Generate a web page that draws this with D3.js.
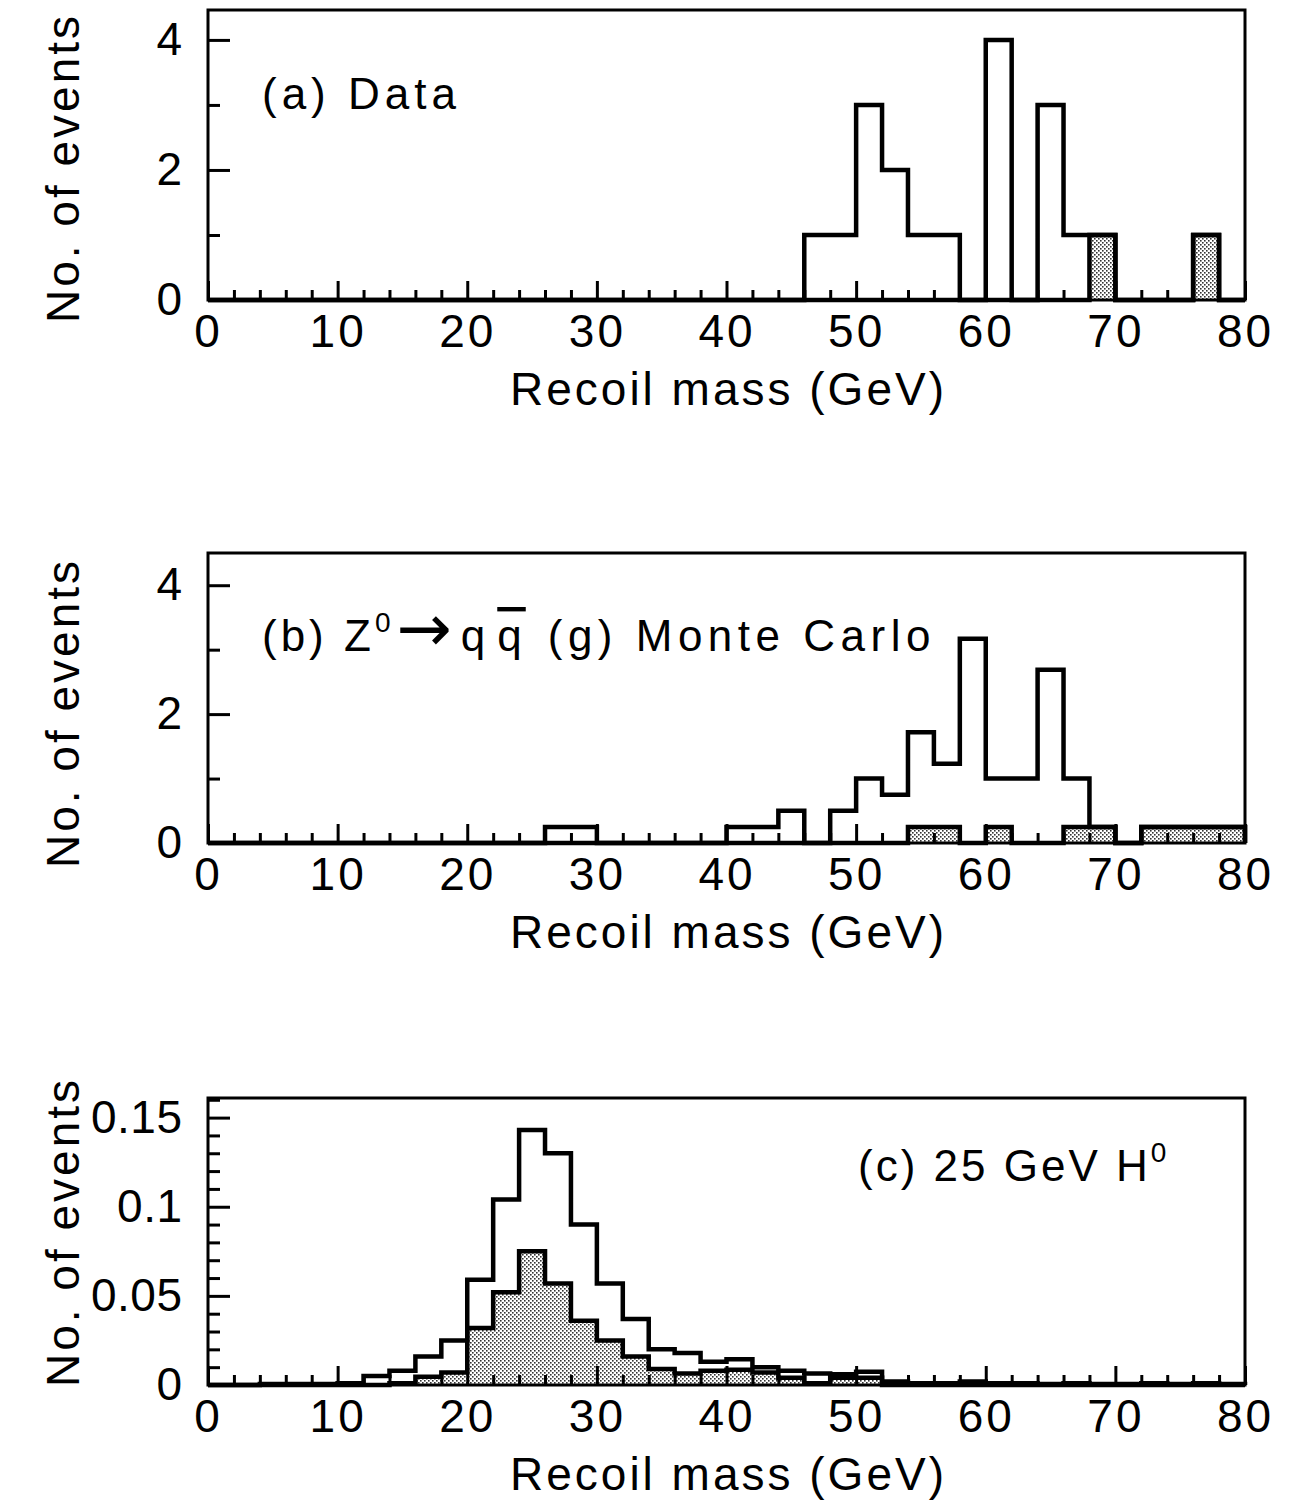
<!DOCTYPE html>
<html>
<head>
<meta charset="utf-8">
<script src="https://cdn.jsdelivr.net/npm/d3@7"></script>
<style>
  html, body { margin: 0; padding: 0; background: #fff; }
  svg { display: block; }
  text { font-family: "Liberation Sans", Arial, sans-serif; fill: #000; }
</style>
</head>
<body>
<svg id="chart" width="1290" height="1502"></svg>
<script>
// ---------------- DATA ----------------
// lower edges of the 2 GeV recoil-mass bins
const binLow = [0,2,4,6,8,10,12,14,16,18,20,22,24,26,28,30,32,34,36,38,
                40,42,44,46,48,50,52,54,56,58,60,62,64,66,68,70,72,74,76,78];
const binHigh = 80;

// (a) Data: all events and shaded subset
const dataTotal  = [0,0,0,0,0,0,0,0,0,0, 0,0,0,0,0,0,0,0,0,0,
                    0,0,0,1,1,3,2,1,1,0, 4,0,3,1,1,0,0,0,1,0];
const dataShaded = [0,0,0,0,0,0,0,0,0,0, 0,0,0,0,0,0,0,0,0,0,
                    0,0,0,0,0,0,0,0,0,0, 0,0,0,0,1,0,0,0,1,0];

// (b) Z0 -> qqbar(g) Monte Carlo
const mcTotal  = [0,0,0,0,0,0,0,0,0,0, 0,0,0,0.25,0.25,0,0,0,0,0,
                  0.25,0.25,0.5,0,0.5,1.0,0.75,1.72,1.23,3.17, 1.0,1.0,2.69,1.0,0.25,0,0.25,0.25,0.25,0.25];
const mcShaded = [0,0,0,0,0,0,0,0,0,0, 0,0,0,0,0,0,0,0,0,0,
                  0,0,0,0,0,0,0,0.25,0.25,0, 0.25,0,0,0.25,0.25,0,0.25,0.25,0.25,0.25];

// (c) 25 GeV H0
const higgsTotal  = [0,0,0.0005,0.0005,0.0005,0.001,0.005,0.008,0.016,0.025,
                     0.059,0.104,0.143,0.130,0.090,0.057,0.037,0.020,0.018,0.013,
                     0.0145,0.010,0.008,0.0065,0.006,0.0075,0.002,0.001,0.001,0.002,
                     0.001,0.001,0.0005,0.001,0.0005,0.0005,0.001,0.0005,0.001,0.0005];
const higgsShaded = [0,0,0,0,0,0,0,0.001,0.0046,0.007,
                     0.032,0.052,0.075,0.057,0.036,0.025,0.016,0.009,0.0065,0.008,
                     0.0085,0.007,0.004,0.001,0.004,0.004,0,0,0,0,
                     0,0,0,0,0,0,0,0,0,0];

// axis ticks
const xMajorTicks = [0,10,20,30,40,50,60,70,80];
const xTickLabels = ["0","10","20","30","40","50","60","70","80"];
const xMinorTicks = [2,4,6,8,12,14,16,18,22,24,26,28,32,34,36,38,42,44,46,48,52,54,56,58,62,64,66,68,72,74,76,78];
const yMajorAB = [0,2,4];
const yLabelsAB = ["0","2","4"];
const yMinorAB = [1,3];
const yMajorC = [0,0.05,0.1,0.15];
const yLabelsC = ["0","0.05","0.1","0.15"];
const yMinorC = [0.01,0.02,0.03,0.04,0.06,0.07,0.08,0.09,0.11,0.12,0.13,0.14,0.16];

const xTitle = "Recoil mass (GeV)";
const yTitle = "No. of events";

// ---------------- LAYOUT ----------------
const svg = d3.select("#chart");
const frameLeft = 208, frameRight = 1245;

const defs = svg.append("defs");
const pat = defs.append("pattern").attr("id", "dots")
  .attr("width", 4).attr("height", 4).attr("patternUnits", "userSpaceOnUse");
pat.append("rect").attr("width", 4).attr("height", 4).attr("fill", "#fff");
pat.append("rect").attr("x", 0).attr("y", 0).attr("width", 1.6).attr("height", 1.6).attr("fill", "#333");
pat.append("rect").attr("x", 2).attr("y", 2).attr("width", 1.6).attr("height", 1.6).attr("fill", "#333");

const panels = [
  { top: 10,   bottom: 300,  yMax: 4.46, total: dataTotal,  shaded: dataShaded,
    yMajor: yMajorAB, yLabels: yLabelsAB, yMinor: yMinorAB, yTitleY: 168, ySpacing: 2 },
  { top: 553,  bottom: 843,  yMax: 4.5,  total: mcTotal,    shaded: mcShaded,
    yMajor: yMajorAB, yLabels: yLabelsAB, yMinor: yMinorAB, yTitleY: 713, ySpacing: 2 },
  { top: 1098, bottom: 1385, yMax: 0.161, total: higgsTotal, shaded: higgsShaded,
    yMajor: yMajorC, yLabels: yLabelsC, yMinor: yMinorC, yTitleY: 1232, ySpacing: 0.5 }
];

const x = d3.scaleLinear().domain([0, 80]).range([frameLeft, frameRight]);

function stepPoints(vals) {
  const pts = binLow.map((lo, i) => [lo, vals[i]]);
  pts.push([binHigh, vals[vals.length - 1]]);
  return pts;
}

panels.forEach(p => {
  const y = d3.scaleLinear().domain([0, p.yMax]).range([p.bottom, p.top]);
  const g = svg.append("g");

  const area = d3.area().curve(d3.curveStepAfter)
    .x(d => x(d[0])).y0(y(0)).y1(d => y(d[1]));
  const line = d3.line().curve(d3.curveStepAfter)
    .x(d => x(d[0])).y(d => y(d[1]));

  const shPts = stepPoints(p.shaded);
  const shPath = [[0, 0]].concat(shPts).concat([[binHigh, 0]]);
  g.append("path").attr("d", area(shPts)).attr("fill", "url(#dots)");

  // axes ticks (inward)
  const xMaj = d3.axisBottom(x).tickValues(xMajorTicks)
    .tickFormat((d, i) => xTickLabels[i]).tickSize(-19).tickPadding(14);
  const xMin = d3.axisBottom(x).tickValues(xMinorTicks).tickFormat("").tickSize(-10);
  const yMaj = d3.axisLeft(y).tickValues(p.yMajor)
    .tickFormat((d, i) => p.yLabels[i]).tickSize(-22).tickPadding(26 - p.ySpacing);
  const yMin = d3.axisLeft(y).tickValues(p.yMinor).tickFormat("").tickSize(-12);

  [[xMaj, "x"], [xMin, "x"], [yMaj, "y"], [yMin, "y"]].forEach(([ax, t]) => {
    const a = g.append("g")
      .attr("transform", t === "x" ? `translate(0,${p.bottom})` : `translate(${frameLeft},0)`)
      .call(ax);
    a.select(".domain").remove();
    a.selectAll("line").attr("stroke", "#000").attr("stroke-width", 3);
    a.selectAll("text").attr("font-size", 46).attr("font-family", "Liberation Sans, Arial, sans-serif")
      .attr("letter-spacing", t === "x" ? 3 : p.ySpacing).attr("fill", "#000");
  });

  g.append("path").attr("d", line(shPath)).attr("fill", "none")
    .attr("stroke", "#000").attr("stroke-width", 4.5).attr("stroke-linejoin", "miter");
  const totPath = [[0, 0]].concat(stepPoints(p.total)).concat([[binHigh, 0]]);
  g.append("path").attr("d", line(totPath)).attr("fill", "none")
    .attr("stroke", "#000").attr("stroke-width", 4.5).attr("stroke-linejoin", "miter");

  // frame
  g.append("rect").attr("x", frameLeft).attr("y", p.top)
    .attr("width", frameRight - frameLeft).attr("height", p.bottom - p.top)
    .attr("fill", "none").attr("stroke", "#000").attr("stroke-width", 3);

  // axis titles
  g.append("text").attr("x", (frameLeft + frameRight) / 2 + 2).attr("y", p.bottom + 105)
    .attr("text-anchor", "middle").attr("font-size", 46).attr("letter-spacing", 3)
    .text(xTitle);
  g.append("text").attr("transform", `translate(79,${p.yTitleY}) rotate(-90)`)
    .attr("text-anchor", "middle").attr("font-size", 46).attr("letter-spacing", 3)
    .text(yTitle);
});

// panel labels
svg.append("text").attr("x", 262).attr("y", 109).attr("font-size", 44)
  .attr("letter-spacing", 5).text("(a) Data");

const tb = svg.append("text").attr("x", 262).attr("y", 651).attr("font-size", 44).attr("letter-spacing", 4);
tb.append("tspan").text("(b) Z");
tb.append("tspan").attr("font-size", 28).attr("dy", -19).text("0");
tb.append("tspan").attr("dy", 19).attr("font-family", "DejaVu Sans").attr("font-size", 66)
  .attr("letter-spacing", 0).attr("dx", 2).text("\u2192");
tb.append("tspan").attr("dx", 9).text("q");
tb.append("tspan").attr("dx", 8).style("text-decoration", "overline").text("q");
tb.append("tspan").attr("dx", 22).attr("letter-spacing", 5.5).text("(g) Monte Carlo");

const tc = svg.append("text").attr("x", 858).attr("y", 1181).attr("font-size", 44).attr("letter-spacing", 3);
tc.append("tspan").text("(c) 25 GeV H");
tc.append("tspan").attr("font-size", 28).attr("dy", -19).text("0");
</script>
</body>
</html>
